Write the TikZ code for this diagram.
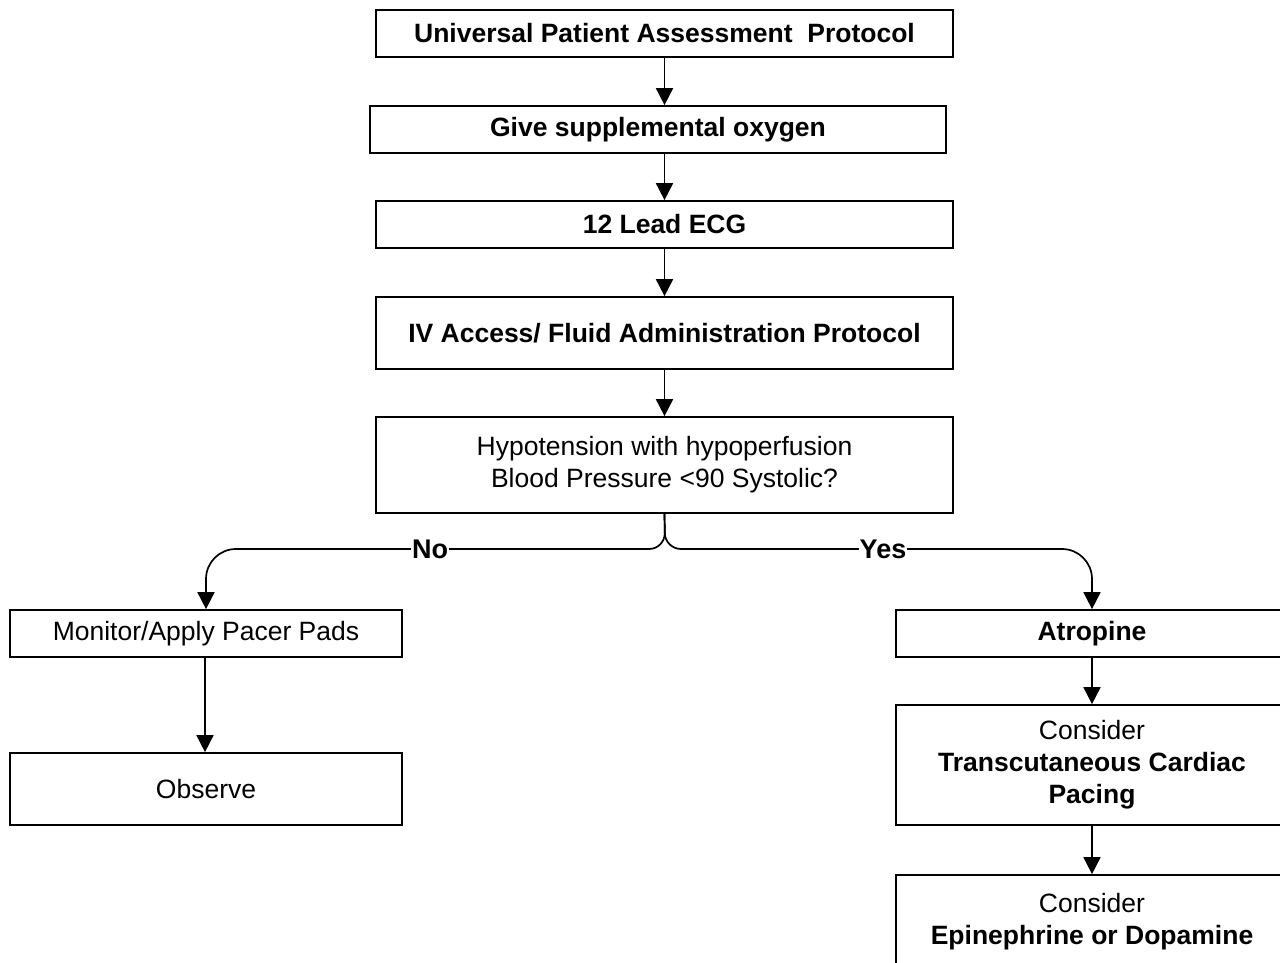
\documentclass[tikz,border=0pt]{standalone}
\usepackage{fontspec}
\setmainfont{Liberation Sans}
\usetikzlibrary{arrows.meta}
\begin{document}
\begin{tikzpicture}[x=1pt,y=-1pt,
  box/.style={draw, line width=1.7pt, inner sep=0pt, align=center,
    font=\fontsize{26.5}{32}\selectfont},
  wide/.style={box, minimum width=577pt},
  side/.style={box, minimum width=392pt},
  link/.style={line width=1.7pt, -{Triangle[width=17pt,length=17pt]}},
  wire/.style={line width=1.7pt},
  lbl/.style={fill=white, inner sep=1pt, font=\fontsize{27}{32}\selectfont\bfseries}]
\useasboundingbox (0,0) rectangle (1280,963);
\fill[white] (0,0) rectangle (1280,963);
\clip (0,0) rectangle (1280,963);

% main column
\node[wide, minimum height=47pt] (upa) at (664.5,33.5) {\textbf{Universal Patient Assessment~ Protocol}};
\node[box, minimum width=576pt, minimum height=47pt] (oxy) at (658,129.5) {\textbf{Give supplemental oxygen}};
\node[wide, minimum height=47pt] (ecg) at (664.5,224.5) {\textbf{12 Lead ECG}};
\node[wide, minimum height=72pt] (iv) at (664.5,333) {\textbf{IV Access/ Fluid Administration Protocol}};
\node[wide, minimum height=96pt] (hyp) at (664.5,465) {Hypotension with hypoperfusion\\Blood Pressure <90 Systolic?};

% "No" branch
\node[side, minimum height=47pt] (mon) at (206,633.5) {Monitor/Apply Pacer Pads};
\node[side, minimum height=72pt] (obs) at (206,789) {Observe};

% "Yes" branch
\node[side, minimum height=47pt] (atr) at (1092,633.5) {\textbf{Atropine}};
\node[side, minimum height=120pt] (tcp) at (1092,765) {\raisebox{0pt}[\height][\depth]{}Consider\\\textbf{Transcutaneous Cardiac}\\\textbf{Pacing}};
\node[side, minimum height=94pt] (epi) at (1092,922) {Consider\\\textbf{Epinephrine or Dopamine}};

% straight connectors
\draw[link] (upa.south) -- (upa.south |- oxy.north);
\draw[link] (upa.south |- oxy.south) -- (ecg.north);
\draw[link] (ecg.south) -- (iv.north);
\draw[link] (iv.south) -- (hyp.north);
\draw[link] (mon.south -| 205,0) -- (obs.north -| 205,0);
\draw[link] (atr.south) -- (tcp.north);
\draw[link] (tcp.south) -- (epi.north);

% fork below the decision box
\coordinate (fork) at (665,549);
\coordinate (forkL) at (600,549);
\coordinate (forkR) at (730,549);
\draw[wire, rounded corners=16pt] (hyp.south) -- (fork) -- (forkL);
\draw[wire, rounded corners=16pt] (hyp.south) -- (fork) -- (forkR);
\draw[link, rounded corners=30pt] (forkL) -- (mon.north |- fork) -- (mon.north);
\draw[link, rounded corners=30pt] (forkR) -- (atr.north |- fork) -- (atr.north);
\node[lbl] at (430,549) {No};
\node[lbl] at (883,549) {Yes};
\end{tikzpicture}
\end{document}
